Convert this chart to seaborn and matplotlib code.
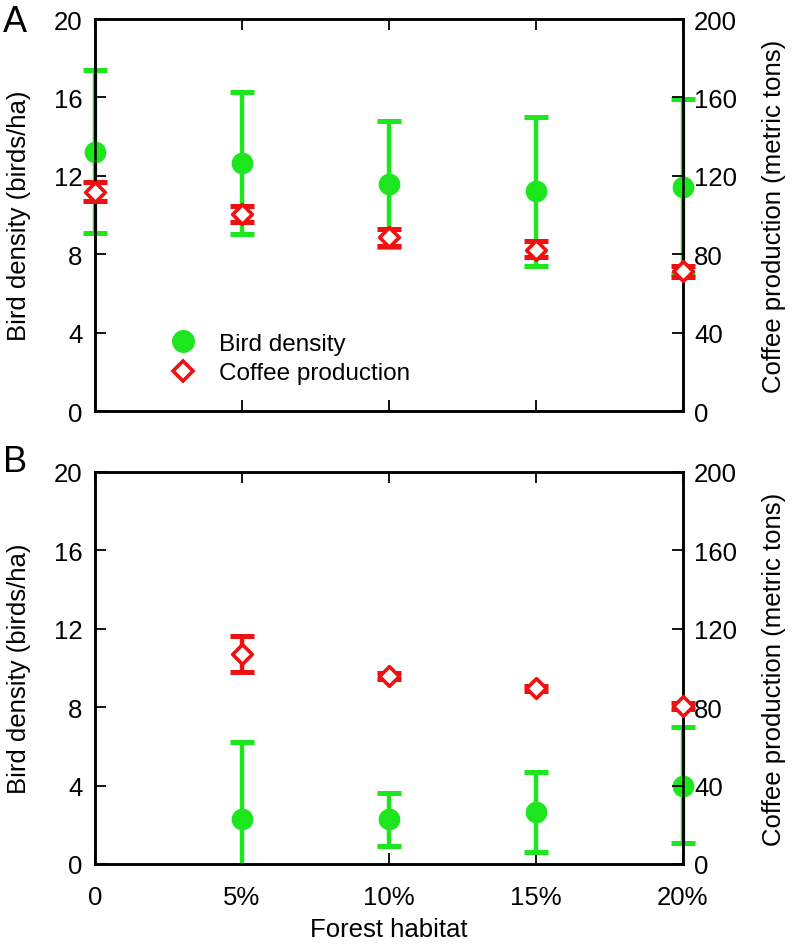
import numpy as np
import pandas as pd
import matplotlib
matplotlib.use("Agg")
import matplotlib.pyplot as plt
from matplotlib.lines import Line2D
import seaborn as sns

sns.set_style("white")
plt.rcParams['font.family'] = ['Liberation Sans', 'DejaVu Sans']
plt.rcParams['text.color'] = 'black'
plt.rcParams['axes.labelcolor'] = 'black'
plt.rcParams['xtick.color'] = 'black'
plt.rcParams['ytick.color'] = 'black'

categories = ["0", "5%", "10%", "15%", "20%"]

# Panel A
bird_a = [13.23, 12.65, 11.58, 11.24, 11.44]
bird_a_lo = [9.1, 9.03, 8.35, 7.41, 7.0]
bird_a_hi = [17.4, 16.3, 14.8, 15.0, 15.9]
coffee_a = [111.9, 100.5, 88.6, 82.3, 71.6]
coffee_a_lo = [107.0, 96.6, 84.3, 78.4, 68.2]
coffee_a_hi = [117.0, 104.4, 92.9, 86.9, 74.0]

# Panel B (no data at 0)
cat_b = ["5%", "10%", "15%", "20%"]
bird_b = [2.30, 2.30, 2.64, 4.00]
bird_b_lo = [-0.9, 0.9, 0.6, 1.07]
bird_b_hi = [6.2, 3.6, 4.68, 6.97]
coffee_b = [107.1, 96.1, 89.6, 80.8]
coffee_b_lo = [98.1, 94.6, 88.5, 79.3]
coffee_b_hi = [116.1, 97.6, 90.7, 82.3]

GREEN = "#1ee61e"
RED = "#ee1111"
TICK_FS = 18.5
LABEL_FS = 18.5

fig = plt.figure(figsize=(7.96, 9.45), dpi=100)
ax_a = fig.add_axes([95/796, 533/945, 588/796, 392/945])
ax_b = fig.add_axes([95/796, 80/945, 588/796, 392/945])


def errbars(ax, xpos, y, lo, hi, color):
    for xi, yi, l, h in zip(xpos, y, lo, hi):
        ax.errorbar([xi], [yi], yerr=[[yi - l], [h - yi]], fmt="none",
                    ecolor=color, elinewidth=3.2, capsize=8.7, capthick=3.6,
                    clip_on=(l < 0), zorder=2)


def draw_panel(ax, cats, bird, blo, bhi, coffee, clo, chi, show_xlabels):
    xpos = [categories.index(c) for c in cats]
    df_b = pd.DataFrame({"x": xpos, "y": bird})
    df_c = pd.DataFrame({"x": xpos, "y": coffee})
    ax2 = ax.twinx()
    errbars(ax, xpos, bird, blo, bhi, GREEN)
    sns.scatterplot(data=df_b, x="x", y="y", ax=ax, color=GREEN, s=245,
                    marker="o", edgecolor=GREEN, linewidth=0, clip_on=False,
                    zorder=3, legend=False)
    errbars(ax2, xpos, coffee, clo, chi, RED)
    sns.scatterplot(data=df_c, x="x", y="y", ax=ax2, marker="D", s=100,
                    facecolor="white", edgecolor=RED, linewidth=2.6,
                    clip_on=False, zorder=3, legend=False)

    ax.set_xlim(0, 4)
    ax.set_ylim(0, 20)
    ax2.set_ylim(0, 200)
    ax.set_xticks(range(5))
    if show_xlabels:
        ax.set_xticklabels(categories)
    else:
        ax.set_xticklabels([])
    ax.set_yticks([0, 4, 8, 12, 16, 20])
    ax2.set_yticks([0, 40, 80, 120, 160, 200])
    ax.tick_params(axis="x", direction="in", length=8, width=1.3,
                   labelsize=TICK_FS, top=True, bottom=True, pad=15)
    ax.tick_params(axis="y", direction="in", length=8, width=1.3,
                   labelsize=TICK_FS, left=True, right=False, pad=9)
    ax2.tick_params(axis="y", direction="in", length=8, width=1.3,
                    labelsize=TICK_FS, pad=8)
    for a in (ax, ax2):
        for sp in a.spines.values():
            sp.set_color("black")
            sp.set_linewidth(1.8)
    ax.set_xlabel("")
    ax.set_ylabel("Bird density (birds/ha)", fontsize=LABEL_FS)
    ax2.set_ylabel("Coffee production (metric tons)", fontsize=LABEL_FS)
    ax.yaxis.set_label_coords(-0.109, 0.5)
    ax2.yaxis.set_label_coords(1.134, 0.5)
    return ax2


ax2a = draw_panel(ax_a, categories, bird_a, bird_a_lo, bird_a_hi,
                  coffee_a, coffee_a_lo, coffee_a_hi, False)
ax2b = draw_panel(ax_b, cat_b, bird_b, bird_b_lo, bird_b_hi,
                  coffee_b, coffee_b_lo, coffee_b_hi, True)
ax_b.set_xlabel("Forest habitat", fontsize=LABEL_FS)
ax_b.xaxis.set_label_coords(0.5, -0.135)

handles = [
    Line2D([], [], marker="o", color="none", markerfacecolor=GREEN,
           markeredgecolor=GREEN, markersize=15.5, label="Bird density"),
    Line2D([], [], marker="D", color="none", markerfacecolor="white",
           markeredgecolor=RED, markeredgewidth=2.6, markersize=10,
           label="Coffee production"),
]
ax2a.legend(handles=handles, loc="upper left", frameon=False,
            bbox_to_anchor=(0.109, 0.199), fontsize=17.5, borderpad=0,
            handlelength=2.0, handletextpad=0.46, labelspacing=0.3,
            borderaxespad=0)

fig.text(3/796, 1 - 22/945, "A", fontsize=26, va="center", ha="left")
fig.text(3/796, 1 - 462/945, "B", fontsize=26, va="center", ha="left")

fig.savefig("out.png", dpi=100)
